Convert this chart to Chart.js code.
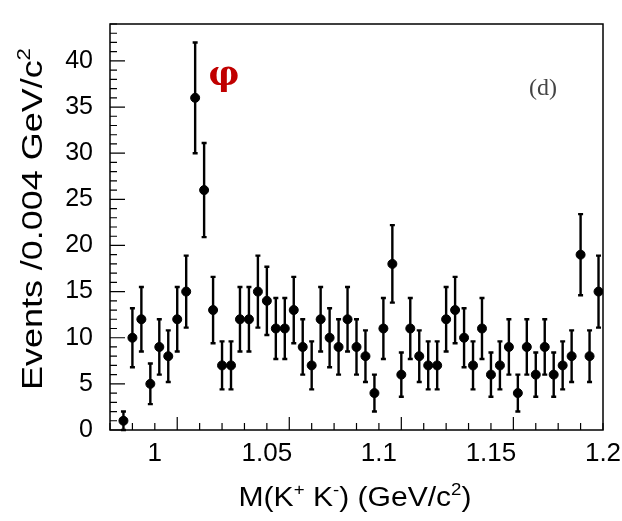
<!DOCTYPE html>
<html>
<head>
<meta charset="utf-8">
<script src="https://cdn.jsdelivr.net/npm/chart.js@4"></script>
<style>
  html, body { margin: 0; padding: 0; background: #fff; }
  #wrap { width: 622px; height: 521px; position: relative; }
</style>
</head>
<body>
<div id="wrap"><canvas id="massChart"></canvas></div>
<script>
// bin centres (GeV/c^2), 0.004 wide
const binCenters = [
  0.986, 0.990, 0.994, 0.998, 1.002, 1.006, 1.010, 1.014, 1.018, 1.022,
  1.026, 1.030, 1.034, 1.038, 1.042, 1.046, 1.050, 1.054, 1.058, 1.062,
  1.066, 1.070, 1.074, 1.078, 1.082, 1.086, 1.090, 1.094, 1.098, 1.102,
  1.106, 1.110, 1.114, 1.118, 1.122, 1.126, 1.130, 1.134, 1.138, 1.142,
  1.146, 1.150, 1.154, 1.158, 1.162, 1.166, 1.170, 1.174, 1.178, 1.182,
  1.186, 1.190, 1.194, 1.198
];
const events = [
  1, 10, 12, 5, 9, 8, 12, 15, 36, 26,
  13, 7, 7, 12, 12, 15, 14, 11, 11, 13,
  9, 7, 12, 10, 9, 12, 9, 8, 4, 11,
  18, 6, 11, 8, 7, 7, 12, 13, 10, 7,
  11, 6, 7, 9, 4, 9, 6, 9, 6, 7,
  8, 19, 8, 15
];
const errors = [
  1.0, 3.2, 3.5, 2.2, 3.0, 2.8, 3.5, 3.9, 6.0, 5.1,
  3.6, 2.6, 2.6, 3.5, 3.5, 3.9, 3.7, 3.3, 3.3, 3.6,
  3.0, 2.6, 3.5, 3.2, 3.0, 3.5, 3.0, 2.8, 2.0, 3.3,
  4.2, 2.4, 3.3, 2.8, 2.6, 2.6, 3.5, 3.6, 3.2, 2.6,
  3.3, 2.4, 2.6, 3.0, 2.0, 3.0, 2.4, 3.0, 2.4, 2.6,
  2.8, 4.4, 2.8, 3.9
];
const xTicks = [1, 1.05, 1.1, 1.15, 1.2];
const xTickLabels = ['1', '1.05', '1.1', '1.15', '1.2'];
const yTicks = [0, 5, 10, 15, 20, 25, 30, 35, 40];

const FONT = '"Liberation Sans", Arial, sans-serif';

// draw a run of [text, isSuperscript] pieces, squeezed/stretched to a given width
function drawRich(ctx, parts, size, cx, baseY, targetW) {
  const widths = parts.map(([t, sup]) => {
    ctx.font = (sup ? size * 0.62 : size) + 'px ' + FONT;
    return ctx.measureText(t).width;
  });
  const natW = widths.reduce((a, b) => a + b, 0);
  const sx = targetW / natW;
  ctx.save();
  ctx.translate(cx - targetW / 2, baseY);
  ctx.scale(sx, 1);
  let x = 0;
  parts.forEach(([t, sup], i) => {
    ctx.font = (sup ? size * 0.62 : size) + 'px ' + FONT;
    ctx.fillText(t, x, sup ? -size * 0.42 : 0);
    x += widths[i];
  });
  ctx.restore();
}

const errBars = {
  id: 'errBars',
  beforeDatasetsDraw(chart) {
    const { ctx, scales: { x, y } } = chart;
    ctx.save();
    ctx.strokeStyle = '#000';
    ctx.lineWidth = 2.4;
    binCenters.forEach((m, i) => {
      const px = x.getPixelForValue(m);
      const lo = y.getPixelForValue(Math.max(0, events[i] - errors[i]));
      const hi = y.getPixelForValue(events[i] + errors[i]);
      ctx.beginPath();
      ctx.moveTo(px, lo); ctx.lineTo(px, hi);
      ctx.moveTo(px - 2.5, lo); ctx.lineTo(px + 2.5, lo);
      ctx.moveTo(px - 2.5, hi); ctx.lineTo(px + 2.5, hi);
      ctx.stroke();
    });
    ctx.restore();
  }
};

const frame = {
  id: 'frame',
  afterDraw(chart) {
    const { ctx, chartArea: a, scales: { x, y } } = chart;
    ctx.save();
    ctx.strokeStyle = '#000';
    ctx.lineWidth = 1.5;
    ctx.strokeRect(a.left, a.top, a.right - a.left, a.bottom - a.top);

    // inward ticks
    ctx.lineWidth = 1.2;
    ctx.beginPath();
    for (let k = 0; k <= 22; k++) {
      const v = 0.98 + k * 0.01;
      const px = x.getPixelForValue(v);
      const len = (k + 2) % 5 === 0 ? 13 : 7;
      ctx.moveTo(px, a.bottom); ctx.lineTo(px, a.bottom - len);
    }
    for (let v = 0; v <= 44; v++) {
      const py = y.getPixelForValue(v);
      const len = v % 5 === 0 ? 15 : 7;
      ctx.moveTo(a.left, py); ctx.lineTo(a.left + len, py);
    }
    ctx.stroke();

    // axis titles
    ctx.fillStyle = '#000';
    ctx.textBaseline = 'alphabetic';
    ctx.textAlign = 'left';
    drawRich(ctx, [['M(K', 0], ['+', 1], [' K', 0], ['-', 1], [') (GeV/c', 0], ['2', 1], [')', 0]],
      27, 355, 506, 233);
    ctx.save();
    ctx.translate(42, 219);
    ctx.rotate(-Math.PI / 2);
    drawRich(ctx, [['Events /0.004 GeV/c', 0], ['2', 1]], 29, 0, 0, 342);
    ctx.restore();

    // labels in the frame
    ctx.textAlign = 'center';
    ctx.textBaseline = 'middle';
    ctx.fillStyle = '#c00000';
    ctx.font = 'bold 34px "DejaVu Serif", serif';
    ctx.fillText('\u03C6', 224, 76);
    ctx.fillStyle = '#444';
    ctx.font = '24px "Liberation Serif", "DejaVu Serif", serif';
    ctx.fillText('(d)', 543, 89);
    ctx.restore();
  }
};

new Chart(document.getElementById('massChart'), {
  type: 'scatter',
  data: {
    datasets: [{
      data: binCenters.map((m, i) => ({ x: m, y: events[i] })),
      backgroundColor: '#000',
      borderColor: '#000',
      pointRadius: 4.5,
      pointHoverRadius: 4.5
    }]
  },
  options: {
    responsive: true,
    maintainAspectRatio: false,
    animation: false,
    layout: { padding: { top: 8, right: 19, left: 0, bottom: 0 } },
    plugins: { legend: { display: false }, tooltip: { enabled: false } },
    scales: {
      x: {
        type: 'linear',
        min: 0.98,
        max: 1.2,
        grid: { display: false },
        border: { display: false },
        afterBuildTicks: s => { s.ticks = xTicks.map(v => ({ value: v })); },
        afterFit: s => { s.height = 91; },
        ticks: {
          color: '#000',
          padding: 0,
          maxRotation: 0,
          font: { family: FONT, size: 26 },
          callback: v => xTickLabels[xTicks.indexOf(v)]
        }
      },
      y: {
        min: 0,
        max: 44,
        grid: { display: false },
        border: { display: false },
        afterBuildTicks: s => { s.ticks = yTicks.map(v => ({ value: v })); },
        afterFit: s => { s.width = 110; },
        ticks: {
          color: '#000',
          padding: 9,
          font: { family: FONT, size: 25 }
        }
      }
    }
  },
  plugins: [errBars, frame]
});
</script>
</body>
</html>
